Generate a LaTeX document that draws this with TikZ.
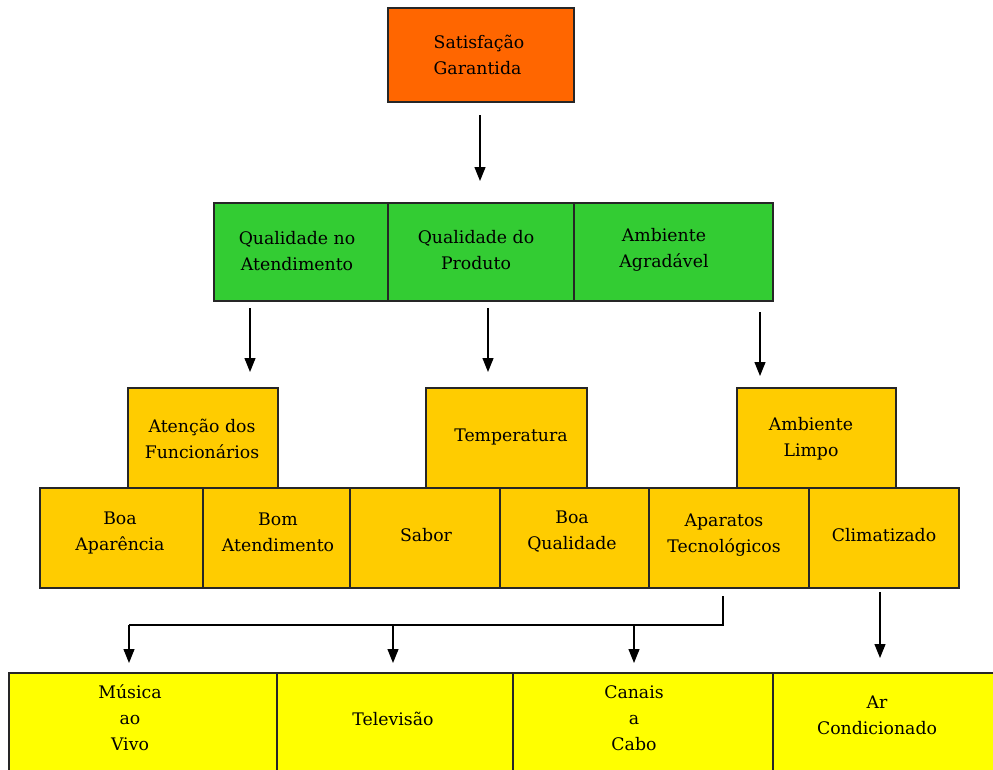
\documentclass[tikz,border=0pt]{standalone}
\usepackage{fontspec}
\setmainfont{DejaVu Serif}
\usetikzlibrary{arrows.meta,calc}
\definecolor{corange}{HTML}{FF6600}
\definecolor{cgreen}{HTML}{33CC33}
\definecolor{cgold}{HTML}{FFCC00}
\definecolor{cyellow}{HTML}{FFFF00}
\begin{document}
\begin{tikzpicture}[x=1pt,y=-1pt,
  box/.style={draw=black!85, line width=1.2pt, inner sep=0pt, outer sep=0pt},
  txt/.style={align=center, font=\fontsize{17.3}{26}\selectfont, inner sep=0pt},
  conn/.style={line width=1.2pt},
  arr/.style={line width=1.2pt, -{Triangle[width=11pt,length=14pt]}}]
\useasboundingbox (0,0) rectangle (993,769);
\clip (0,0) rectangle (993,769);
\fill[white] (0,0) rectangle (993,769);
% top
\node[box, fill=corange, minimum width=186pt, minimum height=94pt] (s) at (481,55) {};
\node[txt, align=left] (st) at (479,55) {Satisfação\\Garantida};
% green row
\node[box, fill=cgreen, minimum width=174pt, minimum height=98pt] (g1) at (301,252) {};
\node[box, fill=cgreen, minimum width=186pt, minimum height=98pt] (g2) at (481,252) {};
\node[box, fill=cgreen, minimum width=199pt, minimum height=98pt] (g3) at (673.5,252) {};
\node[txt] (g1t) at (297,251.5) {Qualidade no\\Atendimento};
\node[txt] (g2t) at (476,250) {Qualidade do\\Produto};
\node[txt] (g3t) at (664,250) {Ambiente\\Agradável};
% gold upper
\node[box, fill=cgold, minimum width=150pt, minimum height=100pt] (a1) at (203,438) {};
\node[box, fill=cgold, minimum width=161pt, minimum height=100pt] (a2) at (506.5,438) {};
\node[box, fill=cgold, minimum width=159pt, minimum height=100pt] (a3) at (816.5,438) {};
\node[txt] (a1t) at (202,438.5) {Atenção dos\\Funcionários};
\node[txt] (a2t) at (511,437) {Temperatura};
\node[txt] (a3t) at (811,438.5) {Ambiente\\Limpo};
% gold lower
\node[box, fill=cgold, minimum width=163pt, minimum height=100pt] (b1) at (121.5,538) {};
\node[box, fill=cgold, minimum width=147pt, minimum height=100pt] (b2) at (276.5,538) {};
\node[box, fill=cgold, minimum width=150pt, minimum height=100pt] (b3) at (425,538) {};
\node[box, fill=cgold, minimum width=149pt, minimum height=100pt] (b4) at (574.5,538) {};
\node[box, fill=cgold, minimum width=160pt, minimum height=100pt] (b5) at (729,538) {};
\node[box, fill=cgold, minimum width=150pt, minimum height=100pt] (b6) at (884,538) {};
\node[txt] (b1t) at (120,532.5) {Boa\\Aparência};
\node[txt] (b2t) at (278,532.5) {Bom\\Atendimento};
\node[txt] (b3t) at (426,535) {Sabor};
\node[txt] (b4t) at (572,531.5) {Boa\\Qualidade};
\node[txt] (b5t) at (724,535.5) {Aparatos\\Tecnológicos};
\node[txt] (b6t) at (884,535) {Climatizado};
% yellow row
\node[box, fill=cyellow, minimum width=268pt, minimum height=177pt] (y1) at (143,761.5) {};
\node[box, fill=cyellow, minimum width=236pt, minimum height=177pt] (y2) at (395,761.5) {};
\node[box, fill=cyellow, minimum width=260pt, minimum height=177pt] (y3) at (643,761.5) {};
\node[box, fill=cyellow, minimum width=277pt, minimum height=177pt] (y4) at (911.5,761.5) {};
\node[txt] (y1t) at (130,718) {Música\\ao\\Vivo};
\node[txt] (y2t) at (393,719) {Televisão};
\node[txt] (y3t) at (634,718) {Canais\\a\\Cabo};
\node[txt] (y4t) at (877,715) {Ar\\Condicionado};
% connectors
\draw[arr] ($(s.south)+(-1,13)$) -- ($(g2.north)+(-1,-22)$);
\draw[arr] ($(g1.south)+(-51,7)$) -- ($(a1.north)+(47,-16)$);
\draw[arr] ($(g2.south)+(7,7)$) -- ($(a2.north)+(-18.5,-16)$);
\draw[arr] ($(g3.south)+(86.5,11)$) -- ($(a3.north)+(-56.5,-12)$);
\coordinate (j) at ($(b5.south)+(-6,37)$);
\coordinate (jl) at ($(y1.north)+(-14,-48)$);
\draw[conn] ($(b5.south)+(-6,8)$) -- (j) -- (jl);
\draw[arr] (jl) -- ($(y1.north)+(-14,-10)$);
\draw[arr] (j -| y2t) -- ($(y2.north -| y2t)+(0,-10)$);
\draw[arr] (j -| y3t) -- ($(y3.north -| y3t)+(0,-10)$);
\draw[arr] ($(b6.south)+(-4,4)$) -- ($(b6.south)+(-4,70)$);
\end{tikzpicture}
\end{document}
